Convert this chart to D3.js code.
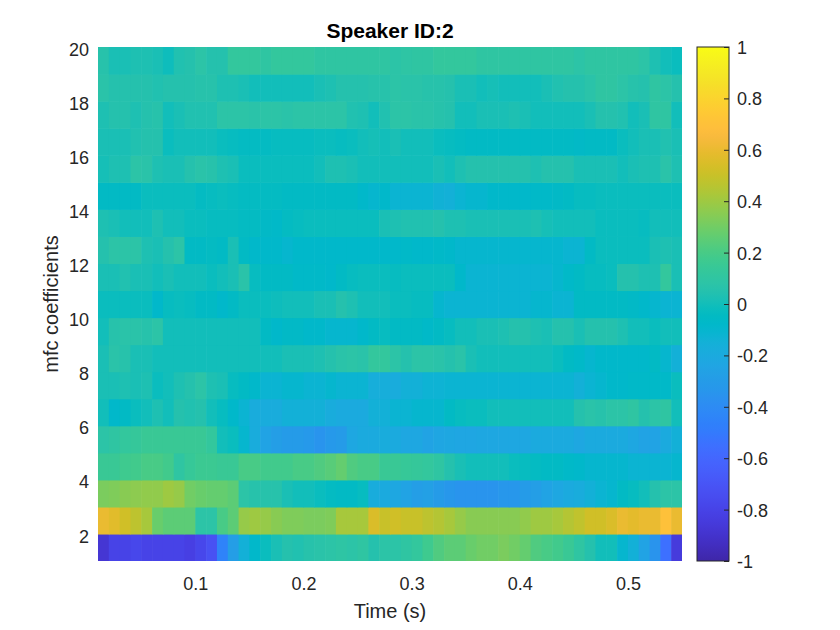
<!DOCTYPE html>
<html>
<head>
<meta charset="utf-8">
<script src="https://cdn.jsdelivr.net/npm/d3@7"></script>
<style>
  body { margin: 0; background: #fff; }
  svg { display: block; }
  text { font-family: "Liberation Sans", Arial, Helvetica, sans-serif; }
</style>
</head>
<body>
<svg id="chart" width="840" height="630"></svg>
<script>
// ---- data ----
const chartTitle = "Speaker ID:2";
const xLabel = "Time (s)";
const yLabel = "mfc coefficients";

// frame edges (s) and coefficient edges
const frameEdges = [0.01,0.02,0.03,0.04,0.05,0.06,0.07,0.08,0.09,0.10,0.11,0.12,0.13,0.14,0.15,0.16,0.17,0.18,0.19,0.20,
  0.21,0.22,0.23,0.24,0.25,0.26,0.27,0.28,0.29,0.30,0.31,0.32,0.33,0.34,0.35,0.36,0.37,0.38,0.39,0.40,
  0.41,0.42,0.43,0.44,0.45,0.46,0.47,0.48,0.49,0.50,0.51,0.52,0.53,0.54,0.55];
const coefEdges = [1,2,3,4,5,6,7,8,9,10,11,12,13,14,15,16,17,18,19,20];

const xTicks = [0.1,0.2,0.3,0.4,0.5];
const yTicks = [2,4,6,8,10,12,14,16,18,20];
const cbTicks = [-1,-0.8,-0.6,-0.4,-0.2,0,0.2,0.4,0.6,0.8,1];
const cbTickLabels = ["-1","-0.8","-0.6","-0.4","-0.2","0","0.2","0.4","0.6","0.8","1"];

// normalized MFCC values per coefficient row (bottom row = coef1)
const coef1 = [-0.88,-0.8,-0.8,-0.78,-0.8,-0.8,-0.8,-0.8,-0.82,-0.78,-0.72,-0.45,-0.28,-0.15,-0.08,-0.02,0.02,0.05,0.04,0.06,0.07,0.08,0.09,0.08,0.1,0.05,0.08,
  0.08,0.1,0.12,0.17,0.22,0.25,0.25,0.28,0.3,0.3,0.32,0.3,0.27,0.22,0.2,0.18,0.15,0.1,0.05,0.0,0.0,-0.1,-0.15,-0.25,-0.35,-0.55,-0.85];
const coef2 = [0.6,0.57,0.52,0.47,0.42,0.28,0.25,0.25,0.25,0.08,0.08,0.2,0.25,0.38,0.4,0.38,0.35,0.33,0.33,0.32,0.32,0.33,0.42,0.42,0.42,0.55,0.5,
  0.52,0.5,0.5,0.47,0.45,0.42,0.38,0.35,0.35,0.35,0.35,0.35,0.37,0.4,0.4,0.42,0.45,0.48,0.52,0.52,0.55,0.6,0.58,0.6,0.6,0.7,0.6];
const coef3 = [0.32,0.33,0.35,0.36,0.37,0.37,0.4,0.38,0.3,0.28,0.27,0.27,0.25,0.08,0.06,0.06,0.06,0.02,0.0,0.0,-0.02,-0.04,-0.05,-0.05,-0.03,-0.18,-0.2,
  -0.22,-0.25,-0.28,-0.27,-0.3,-0.33,-0.35,-0.35,-0.35,-0.35,-0.33,-0.33,-0.3,-0.28,-0.25,-0.22,-0.2,-0.18,-0.15,-0.12,-0.1,-0.05,-0.03,0.0,0.05,0.08,0.08];
const coef4 = [0.15,0.15,0.17,0.18,0.2,0.2,0.18,0.1,0.14,0.16,0.16,0.15,0.15,0.2,0.2,0.18,0.18,0.18,0.2,0.2,0.22,0.24,0.27,0.22,0.2,0.2,0.15,
  0.15,0.14,0.13,0.12,0.1,0.05,0.02,0.0,0.0,0.0,0.0,-0.02,-0.03,-0.04,-0.05,-0.05,-0.07,-0.08,-0.1,-0.1,-0.1,-0.1,-0.12,-0.12,-0.12,-0.12,-0.1];
const coef5 = [0.08,0.1,0.12,0.13,0.15,0.15,0.15,0.15,0.15,0.15,0.12,0.0,-0.02,-0.1,-0.18,-0.25,-0.28,-0.3,-0.3,-0.32,-0.35,-0.32,-0.3,-0.22,-0.2,-0.2,-0.18,
  -0.2,-0.22,-0.22,-0.25,-0.23,-0.22,-0.23,-0.23,-0.22,-0.22,-0.22,-0.22,-0.22,-0.2,-0.2,-0.2,-0.2,-0.22,-0.2,-0.2,-0.2,-0.2,-0.22,-0.25,-0.25,-0.2,-0.15];
const coef6 = [0.0,-0.08,-0.05,-0.02,0.0,0.03,0.0,0.05,0.04,0.05,0.0,-0.03,-0.08,-0.12,-0.18,-0.18,-0.18,-0.15,-0.15,-0.15,-0.15,-0.18,-0.2,-0.2,-0.2,-0.15,-0.15,
  -0.12,-0.12,-0.1,-0.1,-0.1,-0.05,-0.03,-0.02,-0.02,0.0,0.0,0.0,0.0,0.0,0.0,0.0,0.0,0.05,0.07,0.06,0.08,0.08,0.1,0.05,0.08,0.1,0.0];
const coef7 = [0.02,0.02,0.03,0.02,0.03,-0.02,0.0,0.03,0.05,0.08,0.03,0.02,-0.03,-0.05,-0.08,-0.12,-0.12,-0.1,-0.1,-0.12,-0.12,-0.1,-0.12,-0.12,-0.12,-0.17,-0.17,
  -0.18,-0.15,-0.15,-0.13,-0.13,-0.12,-0.12,-0.12,-0.12,-0.12,-0.12,-0.12,-0.12,-0.12,-0.12,-0.12,-0.12,-0.15,-0.12,-0.1,-0.08,-0.08,-0.07,-0.07,-0.07,-0.07,-0.02];
const coef8 = [0.02,0.07,0.06,0.02,0.02,0.0,0.0,0.0,0.0,0.0,0.0,0.0,0.0,0.0,0.0,0.0,0.0,0.02,0.02,0.02,0.03,0.05,0.07,0.08,0.07,0.12,0.12,
  0.08,0.05,0.08,0.08,0.07,0.05,0.07,0.02,0.0,0.0,0.0,0.0,0.0,0.0,0.0,-0.02,-0.05,-0.07,-0.1,-0.08,-0.08,-0.08,-0.08,-0.08,-0.05,-0.1,-0.15];
const coef9 = [0.0,0.06,0.07,0.07,0.06,0.08,0.0,0.0,0.0,0.0,0.0,0.0,0.0,0.0,0.0,-0.05,-0.08,-0.06,-0.06,-0.08,-0.08,-0.1,-0.1,-0.1,-0.08,-0.05,-0.03,
  -0.05,-0.05,-0.05,-0.07,-0.05,-0.03,0.0,0.0,0.02,0.02,0.03,0.05,0.05,0.03,0.02,0.05,0.05,0.02,0.05,0.05,0.05,0.03,0.0,0.0,-0.02,0.0,0.0];
const coef10 = [-0.02,-0.02,-0.02,-0.02,-0.02,-0.08,-0.03,-0.02,-0.03,-0.05,-0.05,-0.08,-0.05,-0.02,-0.02,-0.02,-0.01,0.0,0.0,0.0,0.02,0.02,0.05,0.03,0.0,0.0,0.0,
  -0.02,-0.02,-0.03,-0.03,-0.1,-0.12,-0.12,-0.12,-0.12,-0.12,-0.12,-0.12,-0.12,-0.1,-0.1,-0.12,-0.12,-0.05,-0.05,-0.05,-0.05,-0.05,-0.06,-0.08,-0.1,-0.12,-0.12];
const coef11 = [0.02,0.02,0.04,0.02,0.02,0.0,0.02,0.0,0.0,0.0,-0.02,0.0,0.02,0.07,-0.03,-0.05,-0.05,-0.05,-0.07,-0.07,-0.07,-0.08,-0.05,-0.03,-0.02,-0.02,-0.02,
  -0.03,-0.02,-0.02,-0.02,-0.02,-0.02,-0.08,-0.12,-0.12,-0.12,-0.12,-0.12,-0.12,-0.12,-0.12,-0.1,-0.07,-0.05,-0.03,-0.03,-0.02,0.05,0.05,0.03,0.03,0.12,0.02];
const coef12 = [0.05,0.08,0.08,0.08,0.03,0.02,0.05,0.08,-0.05,-0.05,-0.04,-0.05,0.02,-0.05,-0.08,-0.08,-0.08,-0.1,-0.08,-0.08,-0.08,-0.08,-0.08,-0.08,-0.08,-0.08,-0.08,
  -0.08,-0.07,-0.08,-0.08,-0.07,-0.08,-0.1,-0.1,-0.1,-0.1,-0.1,-0.1,-0.1,-0.1,-0.1,-0.1,-0.12,-0.12,-0.05,-0.02,-0.02,-0.02,-0.02,-0.02,0.02,0.03,0.02];
const coef13 = [0.03,0.02,0.0,0.0,0.0,0.03,0.0,0.0,-0.02,-0.02,-0.03,-0.03,-0.03,-0.04,-0.04,-0.06,-0.07,-0.04,-0.03,-0.02,-0.02,-0.02,-0.02,-0.02,-0.02,-0.02,0.02,
  0.03,0.04,0.04,0.04,0.05,0.03,0.03,0.02,0.02,0.02,0.02,0.02,0.02,0.03,0.01,0.0,0.0,0.0,0.0,-0.02,-0.02,-0.02,-0.02,-0.03,0.0,0.0,0.0];
const coef14 = [-0.05,-0.05,-0.05,-0.05,-0.02,-0.02,-0.02,-0.02,-0.02,-0.04,-0.03,-0.02,-0.03,-0.04,-0.04,-0.04,-0.04,-0.05,-0.05,-0.05,-0.05,-0.05,-0.05,-0.05,-0.08,-0.1,-0.08,
  -0.12,-0.12,-0.12,-0.12,-0.14,-0.15,-0.12,-0.1,-0.1,-0.08,-0.08,-0.08,-0.08,-0.07,-0.07,-0.06,-0.05,-0.03,-0.03,-0.02,-0.02,-0.02,-0.02,-0.02,-0.02,-0.02,-0.02];
const coef15 = [0.01,0.03,0.03,0.08,0.07,0.03,0.02,0.02,0.05,0.07,0.06,0.03,0.02,-0.02,-0.02,-0.02,-0.02,-0.02,-0.02,-0.02,0.0,0.03,0.03,0.02,0.0,0.0,0.0,
  0.0,0.0,0.0,0.0,0.02,0.0,0.03,0.05,0.05,0.05,0.05,0.05,0.05,0.03,0.05,0.05,0.05,0.02,0.02,0.02,0.02,0.0,0.02,0.03,0.03,0.07,0.03];
const coef16 = [0.02,0.02,0.02,0.04,0.05,0.05,-0.02,0.0,0.0,0.0,0.0,-0.02,-0.03,-0.04,-0.04,-0.04,-0.03,-0.03,-0.03,-0.03,-0.02,-0.02,-0.03,-0.02,0.0,0.01,0.0,
  0.02,0.0,0.0,0.0,-0.02,-0.03,-0.04,-0.05,-0.05,-0.05,-0.05,-0.05,-0.05,-0.05,-0.05,-0.05,-0.05,-0.06,-0.05,-0.05,-0.05,-0.02,0.0,0.02,0.02,0.04,0.02];
const coef17 = [0.03,0.05,0.05,0.03,0.05,0.06,0.0,0.02,0.04,0.04,0.04,0.08,0.08,0.08,0.07,0.08,0.08,0.07,0.08,0.08,0.08,0.08,0.08,0.04,0.03,0.0,0.04,
  0.08,0.08,0.07,0.07,0.06,0.05,0.0,0.0,0.02,0.02,0.02,0.03,0.02,0.0,0.0,0.0,0.0,0.0,0.02,0.05,0.05,0.04,0.0,0.02,0.1,0.1,0.0];
const coef18 = [0.07,0.05,0.05,0.05,0.05,0.04,0.05,0.05,0.05,0.06,0.06,0.03,0.03,0.02,0.0,0.0,0.0,0.0,0.0,0.0,0.02,0.03,0.05,0.05,0.05,0.06,0.06,
  0.08,0.07,0.07,0.06,0.06,0.05,0.02,0.02,0.0,0.01,0.0,0.0,0.0,0.0,0.02,0.04,0.05,0.05,0.07,0.1,0.1,0.08,0.06,0.05,0.1,0.08,0.05];
const coef19 = [0.06,0.02,0.02,0.03,0.03,0.02,-0.01,0.04,0.05,0.08,0.05,0.05,0.12,0.12,0.12,0.1,0.12,0.12,0.12,0.12,0.1,0.1,0.1,0.1,0.1,0.1,0.1,
  0.08,0.09,0.1,0.1,0.12,0.12,0.12,0.12,0.1,0.1,0.1,0.1,0.1,0.1,0.1,0.1,0.1,0.08,0.1,0.1,0.1,0.1,0.1,0.08,0.03,0.0,-0.02];

const rows = [coef1,coef2,coef3,coef4,coef5,coef6,coef7,coef8,coef9,coef10,
              coef11,coef12,coef13,coef14,coef15,coef16,coef17,coef18,coef19];

// parula colormap (64 entries)
const parula = [
[0.2422,0.1504,0.6603],[0.2504,0.1650,0.7076],[0.2578,0.1818,0.7511],[0.2647,0.1978,0.7952],
[0.2706,0.2147,0.8364],[0.2751,0.2342,0.8710],[0.2783,0.2559,0.8991],[0.2803,0.2782,0.9221],
[0.2813,0.3006,0.9414],[0.2810,0.3228,0.9579],[0.2795,0.3447,0.9717],[0.2760,0.3667,0.9829],
[0.2699,0.3892,0.9906],[0.2602,0.4123,0.9952],[0.2440,0.4358,0.9988],[0.2206,0.4603,0.9973],
[0.1963,0.4847,0.9892],[0.1834,0.5074,0.9798],[0.1786,0.5289,0.9682],[0.1764,0.5499,0.9520],
[0.1687,0.5703,0.9359],[0.1540,0.5902,0.9218],[0.1460,0.6091,0.9079],[0.1380,0.6276,0.8973],
[0.1248,0.6459,0.8883],[0.1113,0.6635,0.8763],[0.0952,0.6798,0.8598],[0.0689,0.6948,0.8394],
[0.0297,0.7082,0.8163],[0.0036,0.7203,0.7917],[0.0067,0.7312,0.7660],[0.0433,0.7411,0.7394],
[0.0964,0.7500,0.7120],[0.1408,0.7584,0.6842],[0.1717,0.7670,0.6554],[0.1938,0.7758,0.6251],
[0.2161,0.7843,0.5923],[0.2470,0.7918,0.5567],[0.2906,0.7973,0.5188],[0.3406,0.8008,0.4789],
[0.3909,0.8029,0.4354],[0.4456,0.8024,0.3909],[0.5044,0.7993,0.3480],[0.5616,0.7942,0.3045],
[0.6174,0.7876,0.2612],[0.6720,0.7793,0.2227],[0.7242,0.7698,0.1910],[0.7738,0.7598,0.1646],
[0.8203,0.7498,0.1535],[0.8634,0.7406,0.1596],[0.9035,0.7330,0.1774],[0.9393,0.7288,0.2100],
[0.9728,0.7298,0.2394],[0.9956,0.7434,0.2371],[0.9970,0.7659,0.2199],[0.9952,0.7893,0.2028],
[0.9892,0.8136,0.1885],[0.9786,0.8386,0.1766],[0.9676,0.8639,0.1643],[0.9610,0.8890,0.1537],
[0.9597,0.9135,0.1423],[0.9628,0.9373,0.1265],[0.9691,0.9606,0.1064],[0.9769,0.9839,0.0805]
].map(c => d3.rgb(c[0]*255, c[1]*255, c[2]*255).formatHex());

// ---- layout ----
const plot = { left: 98, right: 682, top: 47, bottom: 561 };
const cb = { left: 697, right: 729 };
const textColor = "#262626";

const svg = d3.select("#chart");

const x = d3.scaleLinear().domain([frameEdges[0], frameEdges[frameEdges.length-1]]).range([plot.left, plot.right]);
const y = d3.scaleLinear().domain([coefEdges[0], coefEdges[coefEdges.length-1]]).range([plot.bottom, plot.top]);
const color = d3.scaleSequential(d3.piecewise(d3.interpolateRgb, parula)).domain([-1, 1]).clamp(true);

// ---- heatmap cells ----
const cells = [];
rows.forEach((vals, r) => {
  vals.forEach((v, c) => {
    cells.push({ x0: frameEdges[c], x1: frameEdges[c+1], y0: coefEdges[r], y1: coefEdges[r+1], v });
  });
});

const lastX = frameEdges[frameEdges.length-1];
svg.append("g").selectAll("rect").data(cells).join("rect")
  .attr("x", d => x(d.x0))
  .attr("y", d => y(d.y1))
  .attr("width", d => x(d.x1) - x(d.x0) + (d.x1 < lastX ? 0.6 : 0))
  .attr("height", d => y(d.y0) - y(d.y1) + (d.y0 > coefEdges[0] ? 0.6 : 0))
  .attr("fill", d => color(d.v));

// ---- axes ----
const fontTick = 18;
const xAxis = svg.append("g")
  .attr("transform", `translate(0,${plot.bottom})`)
  .call(d3.axisBottom(x).tickValues(xTicks).tickSize(0).tickPadding(16).tickFormat(d3.format(".1f")));
xAxis.select(".domain").remove();
xAxis.selectAll("text").attr("font-size", fontTick).attr("fill", textColor)
  .style("font-family", '"Liberation Sans", Arial, sans-serif');

const yAxis = svg.append("g")
  .attr("transform", `translate(${plot.left},0)`)
  .call(d3.axisLeft(y).tickValues(yTicks).tickSize(0).tickPadding(9).tickFormat(d3.format("d")));
yAxis.select(".domain").remove();
yAxis.selectAll("text").attr("font-size", fontTick).attr("fill", textColor).attr("dy", "0.45em")
  .style("font-family", '"Liberation Sans", Arial, sans-serif');

// ---- labels ----
svg.append("text")
  .attr("x", (plot.left + plot.right) / 2).attr("y", 38)
  .attr("text-anchor", "middle").attr("font-size", 21).attr("font-weight", "bold")
  .attr("fill", "#000").text(chartTitle);

svg.append("text")
  .attr("x", (plot.left + plot.right) / 2).attr("y", 618)
  .attr("text-anchor", "middle").attr("font-size", 20)
  .attr("fill", textColor).text(xLabel);

svg.append("text")
  .attr("transform", `translate(58,${(plot.top + plot.bottom) / 2}) rotate(-90)`)
  .attr("text-anchor", "middle").attr("font-size", 20)
  .attr("fill", textColor).text(yLabel);

// ---- colorbar ----
const cScale = d3.scaleLinear().domain([-1, 1]).range([plot.bottom, plot.top]);
const defs = svg.append("defs");
const grad = defs.append("linearGradient").attr("id", "parulaGrad")
  .attr("x1", 0).attr("y1", 1).attr("x2", 0).attr("y2", 0);
grad.selectAll("stop").data(parula).join("stop")
  .attr("offset", (d, i) => i / (parula.length - 1))
  .attr("stop-color", d => d);

svg.append("rect")
  .attr("x", cb.left).attr("y", cScale(1))
  .attr("width", cb.right - cb.left).attr("height", cScale(-1) - cScale(1))
  .attr("fill", "url(#parulaGrad)")
  .attr("stroke", textColor).attr("stroke-width", 1);

const cAxis = svg.append("g")
  .attr("transform", `translate(${cb.right},0)`)
  .call(d3.axisRight(cScale).tickValues(cbTicks).tickSize(-5).tickPadding(12)
    .tickFormat((d, i) => cbTickLabels[i]));
cAxis.select(".domain").remove();
cAxis.selectAll("line").attr("stroke", textColor).attr("stroke-width", 1);
cAxis.selectAll("text").attr("font-size", fontTick).attr("fill", textColor).attr("x", 8).attr("dy", "0.36em")
  .style("font-family", '"Liberation Sans", Arial, sans-serif');
</script>
</body>
</html>
